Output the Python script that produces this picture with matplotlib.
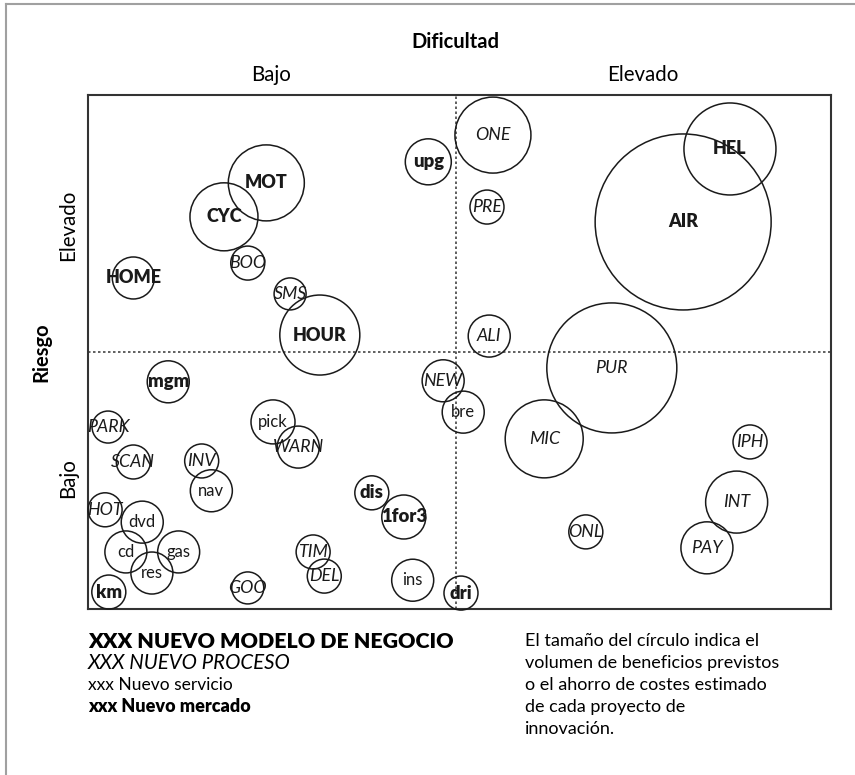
import matplotlib
matplotlib.use('Agg')
import matplotlib.pyplot as plt
from matplotlib.lines import Line2D

plt.rcParams['font.family'] = ['Lato', 'DejaVu Sans']

# Proyectos: dificultad (0-100), riesgo (0-100), tamano del circulo (radio relativo)
names = ['upg', 'MOT', 'CYC', 'BOO', 'HOME', 'SMS', 'HOUR', 'ONE', 'PRE', 'HEL',
         'AIR', 'ALI', 'PUR', 'mgm', 'PARK', 'SCAN', 'INV', 'nav', 'pick', 'WARN',
         'HOT', 'dvd', 'cd', 'gas', 'res', 'km', 'GOO', 'TIM', 'DEL', 'dis',
         '1for3', 'ins', 'NEW', 'bre', 'dri', 'MIC', 'IPH', 'INT', 'ONL', 'PAY']
dificultad = [45.8, 24.0, 18.3, 21.5, 6.1, 27.2, 31.2, 54.5, 53.7, 86.4,
              80.1, 54.0, 70.5, 10.8, 2.7, 6.1, 15.3, 16.6, 24.9, 28.3,
              2.3, 7.3, 5.1, 12.2, 8.6, 2.8, 21.5, 30.3, 31.8, 38.2,
              42.5, 43.7, 47.8, 50.5, 50.2, 61.4, 89.1, 87.3, 67.0, 83.3]
riesgo = [87.0, 82.9, 76.3, 67.3, 64.4, 61.3, 53.3, 92.2, 78.2, 89.5,
          75.3, 53.1, 46.9, 44.2, 35.4, 28.6, 28.8, 23.0, 36.4, 31.5,
          19.3, 16.9, 11.1, 11.1, 7.0, 3.3, 4.1, 11.1, 6.4, 22.6,
          17.9, 5.6, 44.4, 38.3, 3.1, 33.1, 32.5, 20.8, 15.0, 11.9]
tamano = [23, 38, 34, 17, 21, 16, 40, 38, 17, 46,
          88, 21, 65, 21, 16, 17, 17, 21, 22, 21,
          17, 21, 21, 21, 21, 17, 16, 17, 17, 17,
          22, 21, 21, 21, 17, 39, 17, 31, 17, 26]
# tipo: 'modelo' (negrita mayus), 'proceso' (cursiva), 'servicio' (normal), 'mercado' (negrita)
tipo = ['mercado', 'modelo', 'modelo', 'proceso', 'modelo', 'proceso', 'modelo', 'proceso', 'proceso', 'modelo',
        'modelo', 'proceso', 'proceso', 'mercado', 'proceso', 'proceso', 'proceso', 'servicio', 'servicio', 'proceso',
        'proceso', 'servicio', 'servicio', 'servicio', 'servicio', 'mercado', 'proceso', 'proceso', 'proceso', 'mercado',
        'mercado', 'servicio', 'proceso', 'servicio', 'mercado', 'proceso', 'proceso', 'proceso', 'proceso', 'proceso']

estilos = {
    'modelo': dict(fontweight='heavy', fontstyle='normal', fontsize=13),
    'proceso': dict(fontweight='normal', fontstyle='italic', fontsize=12.8),
    'servicio': dict(fontweight='normal', fontstyle='normal', fontsize=12),
    'mercado': dict(fontweight='heavy', fontstyle='normal', fontsize=13.3),
}

W, H = 855, 775
fig = plt.figure(figsize=(W / 100, H / 100), dpi=100)
ax = fig.add_axes([88 / W, (H - 609) / H, 743 / W, 514 / H])

# tamano = radio en px -> area del marcador en puntos^2
sizes = [(2 * r * 72 / 100) ** 2 for r in tamano]
ax.scatter(dificultad, riesgo, s=sizes, facecolors='none', edgecolors='#1a1a1a',
           linewidths=1.1, zorder=3, clip_on=False)

for n, x, y, t in zip(names, dificultad, riesgo, tipo):
    ax.text(x, y, n, ha='center', va='center', color='#1a1a1a', zorder=4, **estilos[t])

ax.axvline(49.5, color='#444444', lw=1.2, ls=(0, (1.5, 1.5)), zorder=2)
ax.axhline(50, color='#444444', lw=1.2, ls=(0, (1.5, 1.5)), zorder=2)

ax.set_xlim(0, 100)
ax.set_ylim(0, 100)
ax.set_xticks([])
ax.set_yticks([])
for s in ax.spines.values():
    s.set_linewidth(1.5)
    s.set_color('#333333')

# ejes
fig.text(455 / W, 1 - 42 / H, 'Dificultad', ha='center', va='center', fontsize=14.5, fontweight='bold')
fig.text(271 / W, 1 - 75 / H, 'Bajo', ha='center', va='center', fontsize=14.8)
fig.text(643 / W, 1 - 75 / H, 'Elevado', ha='center', va='center', fontsize=14.8)
fig.text(41 / W, 1 - 352 / H, 'Riesgo', ha='center', va='center', fontsize=14.5, fontweight='bold', rotation=90)
fig.text(68 / W, 1 - 225 / H, 'Elevado', ha='center', va='center', fontsize=14.8, rotation=90)
fig.text(68 / W, 1 - 478 / H, 'Bajo', ha='center', va='center', fontsize=14.8, rotation=90)

# leyenda
leyenda = ['XXX NUEVO MODELO DE NEGOCIO', 'XXX NUEVO PROCESO', 'xxx Nuevo servicio', 'xxx Nuevo mercado']
leyenda_tipo = ['modelo', 'proceso', 'servicio', 'mercado']
leyenda_tam = [15.4, 14.8, 12.5, 13]
for i, (txt, t, fs) in enumerate(zip(leyenda, leyenda_tipo, leyenda_tam)):
    st = dict(estilos[t])
    st['fontsize'] = fs
    fig.text(88 / W, 1 - (641 + 22 * i) / H, txt, ha='left', va='center', **st)

nota = ['El tamaño del círculo indica el', 'volumen de beneficios previstos',
        'o el ahorro de costes estimado', 'de cada proyecto de', 'innovación.']
for i, txt in enumerate(nota):
    fig.text(525 / W, 1 - (641 + 22 * i) / H, txt, ha='left', va='center', fontsize=13)

# marco gris
fig.add_artist(Line2D([5.5 / W, 5.5 / W], [0, 1 - 4 / H], transform=fig.transFigure, color='#a0a0a0', lw=1.5))
fig.add_artist(Line2D([5.5 / W, 1], [1 - 4 / H, 1 - 4 / H], transform=fig.transFigure, color='#a0a0a0', lw=1.5))

fig.savefig('out.png', dpi=100, facecolor='white')
